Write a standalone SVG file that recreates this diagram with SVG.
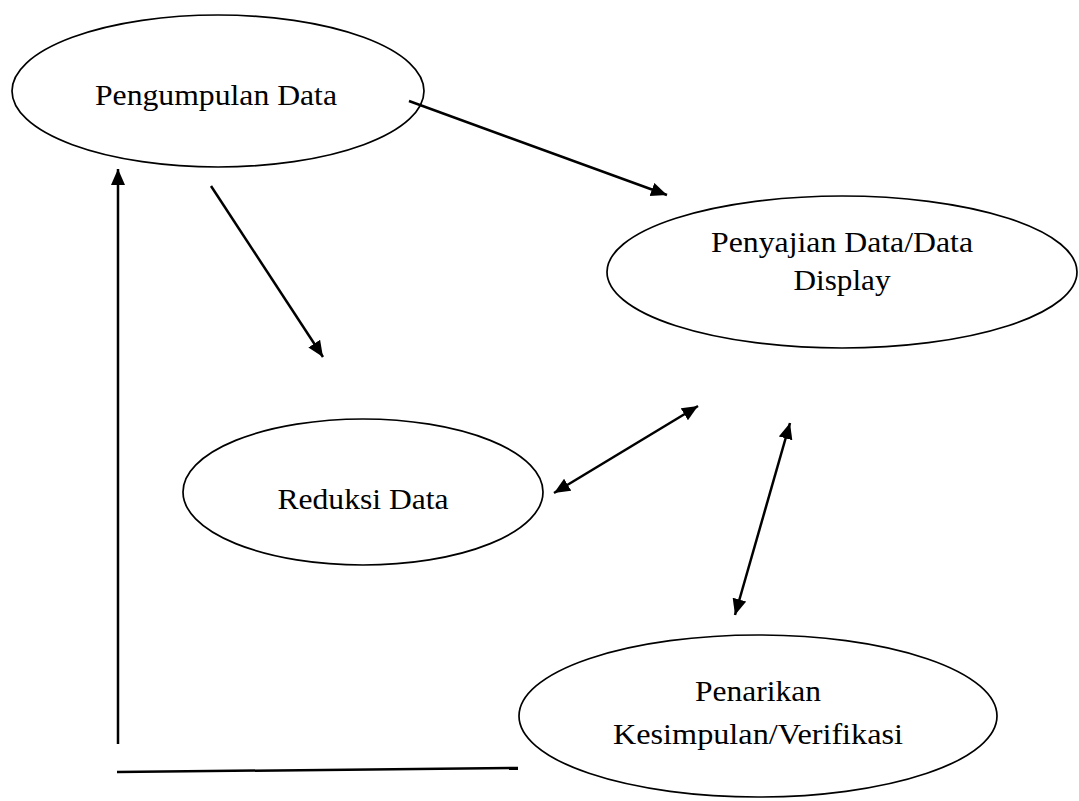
<svg xmlns="http://www.w3.org/2000/svg" width="1079" height="801" viewBox="0 0 1079 801">
<style>
.node ellipse{fill:#fff;stroke:#000;stroke-width:1.7}
.node text{font-family:"Liberation Serif","Times New Roman",serif;font-size:30px;fill:#000;text-anchor:middle}
.conn line{stroke:#000;stroke-width:2.5;fill:none}
</style>
<defs>
<marker id="ah" markerUnits="userSpaceOnUse" markerWidth="17" markerHeight="15" refX="16" refY="7" orient="auto-start-reverse" viewBox="0 0 17 15">
<path d="M0,0 L16,7 L0,14 z" fill="#000"/>
</marker>
</defs>
<rect width="1079" height="801" fill="#fff"/>
<g id="n-pengumpulan" class="node">
<ellipse cx="218" cy="91" rx="206" ry="76"/>
<text x="216" y="105" textLength="242" lengthAdjust="spacingAndGlyphs">Pengumpulan Data</text>
</g>
<g id="n-penyajian" class="node">
<ellipse cx="842" cy="272" rx="235" ry="76"/>
<text x="842" y="252" textLength="262" lengthAdjust="spacingAndGlyphs">Penyajian Data/Data</text>
<text x="842" y="290" textLength="97" lengthAdjust="spacingAndGlyphs">Display</text>
</g>
<g id="n-reduksi" class="node">
<ellipse cx="363" cy="492" rx="180" ry="73"/>
<text x="363" y="509" textLength="171" lengthAdjust="spacingAndGlyphs">Reduksi Data</text>
</g>
<g id="n-penarikan" class="node">
<ellipse cx="758" cy="716" rx="239" ry="81"/>
<text x="758" y="701" textLength="126" lengthAdjust="spacingAndGlyphs">Penarikan</text>
<text x="758" y="744" textLength="290" lengthAdjust="spacingAndGlyphs">Kesimpulan/Verifikasi</text>
</g>
<g id="connectors" class="conn">
<line x1="409" y1="101" x2="667" y2="195" marker-end="url(#ah)"/>
<line x1="211" y1="186" x2="323" y2="357" marker-end="url(#ah)"/>
<line x1="554" y1="493" x2="698" y2="406" marker-start="url(#ah)" marker-end="url(#ah)"/>
<line x1="790" y1="423" x2="735" y2="615" marker-start="url(#ah)" marker-end="url(#ah)"/>
<line x1="118" y1="744" x2="118" y2="169" marker-end="url(#ah)"/>
<line x1="117" y1="772" x2="518" y2="768"/>
</g>
</svg>
